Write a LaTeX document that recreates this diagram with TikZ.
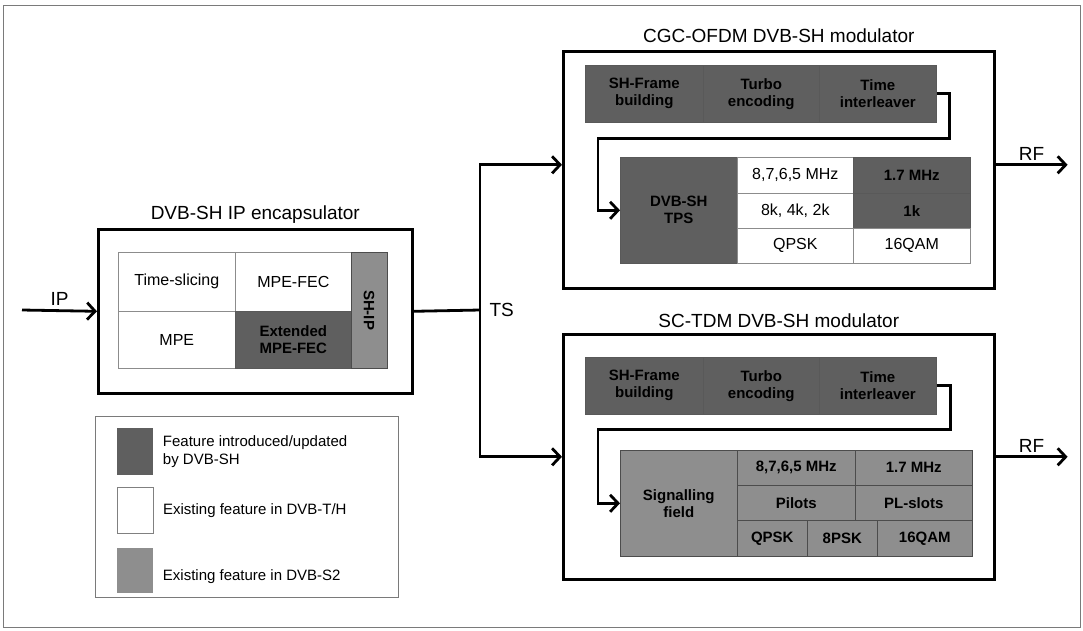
\documentclass[tikz,border=0pt]{standalone}
\usepackage{fontspec}
\setmainfont{Liberation Sans}
\usetikzlibrary{arrows.meta, positioning, calc}
\definecolor{shfeat}{HTML}{5F5F5F}
\definecolor{sfeat} {HTML}{8E8E8E}
\definecolor{frame} {HTML}{7A7A7A}

\begin{document}
\begin{tikzpicture}[x=1pt, y=-1pt,
    box/.style={draw, line width=2.6pt, anchor=north west},
    cell/.style={draw=black!45, line width=0.6pt, inner sep=1pt, anchor=north west, align=center, font=\fontsize{16}{18}\selectfont},
    shcell/.style={cell, fill=shfeat, draw=black!65, font=\fontsize{15}{17}\selectfont\bfseries},
    scell/.style={cell, fill=sfeat, draw=black!70, font=\fontsize{15}{17}\selectfont\bfseries},
    wire/.style={line width=2.8pt},
    arr/.style={wire, -{Straight Barb[length=8pt, width=17pt]}},
    ttl/.style={font=\fontsize{19}{21}\selectfont},
    lbl/.style={font=\fontsize{19}{21}\selectfont},
    lgd/.style={font=\fontsize{15}{18}\selectfont, align=left}]

  \useasboundingbox (0,0) rectangle (1083,630);
  \draw[frame, line width=1pt] (3,5) rectangle (1080,627);

  % encapsulator
  \node[box, minimum width=314pt, minimum height=164pt] (enc) at (97,228) {};
  \node[ttl, above=1pt of enc] (enctitle) {DVB-SH IP encapsulator};
  \node[cell, minimum width=117pt, minimum height=59pt] (tslice) at (118,252) {Time-slicing};
  \node[cell, minimum width=116pt, minimum height=59pt] (mpefec) at (235,252) {MPE-FEC};
  \node[cell, minimum width=117pt, minimum height=57pt] (mpe) at (118,311) {MPE};
  \node[shcell, minimum width=116pt, minimum height=57pt] (extfec) at (235,311) {Extended\\MPE-FEC};
  \node[scell, rotate=-90, anchor=center, minimum width=116pt, minimum height=36pt] (ship) at (369,310) {SH-IP};

  % inputs and split
  \coordinate (ipin) at (22,310);
  \coordinate (split) at (480,310);
  \draw[arr] (ipin) -- (enc.west) node[lbl, midway, above] (ip) {IP};
  \draw[wire] (enc.east) -- (split);
  \node[lbl, right=6pt of split] (ts) {TS};

  % CGC-OFDM modulator
  \node[box, minimum width=431pt, minimum height=237pt] (modA) at (562,50) {};
  \node[ttl, above=4pt of modA] (modAtitle) {CGC-OFDM DVB-SH modulator};
  \node[shcell, minimum width=118pt, minimum height=57pt] (sfA) at (585,65) {SH-Frame\\building};
  \node[shcell, minimum width=116pt, minimum height=57pt] (teA) at (703,65) {Turbo\\encoding};
  \node[shcell, minimum width=117pt, minimum height=57pt] (tiA) at (819,65) {Time\\interleaver};
  \node[shcell, minimum width=117pt, minimum height=106pt] (tps) at (620,157) {DVB-SH\\TPS};
  \node[cell, minimum width=116pt, minimum height=36pt] (bwA) at (737,157) {8,7,6,5 MHz};
  \node[shcell, minimum width=117pt, minimum height=36pt] (bwnA) at (853,157) {1.7 MHz};
  \node[cell, minimum width=116pt, minimum height=35pt] (fft) at (737,193) {8k, 4k, 2k};
  \node[shcell, minimum width=117pt, minimum height=35pt] (fftn) at (853,193) {1k};
  \node[cell, minimum width=116pt, minimum height=35pt] (qpskA) at (737,228) {QPSK};
  \node[cell, minimum width=117pt, minimum height=35pt] (qamA) at (853,228) {16QAM};
  \draw[arr] (tiA.east) -- ++(13,0) -- ++(0,45) -| ($(tps.west)+(-22,0)$) -- (tps.west);

  % SC-TDM modulator
  \node[box, minimum width=431pt, minimum height=245pt] (modB) at (562,333) {};
  \node[ttl, above=2pt of modB] (modBtitle) {SC-TDM DVB-SH modulator};
  \node[shcell, minimum width=118pt, minimum height=57pt] (sfB) at (585,357) {SH-Frame\\building};
  \node[shcell, minimum width=116pt, minimum height=57pt] (teB) at (703,357) {Turbo\\encoding};
  \node[shcell, minimum width=117pt, minimum height=57pt] (tiB) at (819,357) {Time\\interleaver};
  \node[scell, minimum width=117pt, minimum height=106pt] (sig) at (620,450) {Signalling\\field};
  \node[scell, minimum width=118pt, minimum height=35pt] (bwB) at (737,450) {8,7,6,5 MHz};
  \node[scell, minimum width=117pt, minimum height=35pt] (bwnB) at (855,450) {1.7 MHz};
  \node[scell, minimum width=118pt, minimum height=35pt] (pil) at (737,485) {Pilots};
  \node[scell, minimum width=117pt, minimum height=35pt] (pls) at (855,485) {PL-slots};
  \node[scell, minimum width=70pt, minimum height=36pt] (qpskB) at (737,520) {QPSK};
  \node[scell, minimum width=70pt, minimum height=36pt] (psk) at (807,520) {8PSK};
  \node[scell, minimum width=95pt, minimum height=36pt] (qamB) at (877,520) {16QAM};
  \draw[arr] (tiB.east) -- ++(14,0) -- ++(0,44) -| ($(sig.west)+(-22,0)$) -- (sig.west);

  % TS to modulators, RF out
  \draw[arr] (split) |- ([yshift=5pt]modA.west);
  \draw[arr] (split) |- (modB.west);
  \draw[arr] ([yshift=5pt]modA.east) -- ++(72,0) node[lbl, midway, above] (rfA) {RF};
  \draw[arr] (modB.east) -- ++(72,0) node[lbl, midway, above] (rfB) {RF};

  % legend
  \node[draw=frame, line width=1pt, anchor=north west, minimum width=303pt, minimum height=181pt] (legend) at (95,416) {};
  \node[anchor=north west, fill=shfeat, inner sep=0pt, minimum width=36pt, minimum height=47pt] (sw1) at (117,428) {};
  \node[anchor=north west, draw=black!50, line width=0.6pt, inner sep=0pt, minimum width=36pt, minimum height=46pt] (sw2) at (117,487) {};
  \node[anchor=north west, fill=sfeat, inner sep=0pt, minimum width=36pt, minimum height=45pt] (sw3) at (117,548) {};
  \node[lgd, right=6pt of sw1] (lg1) {Feature introduced/updated\\by DVB-SH};
  \node[lgd, right=6pt of sw2] (lg2) {Existing feature in DVB-T/H};
  \node[lgd, right=6pt of sw3, yshift=-6pt] (lg3) {Existing feature in DVB-S2};
\end{tikzpicture}
\end{document}
